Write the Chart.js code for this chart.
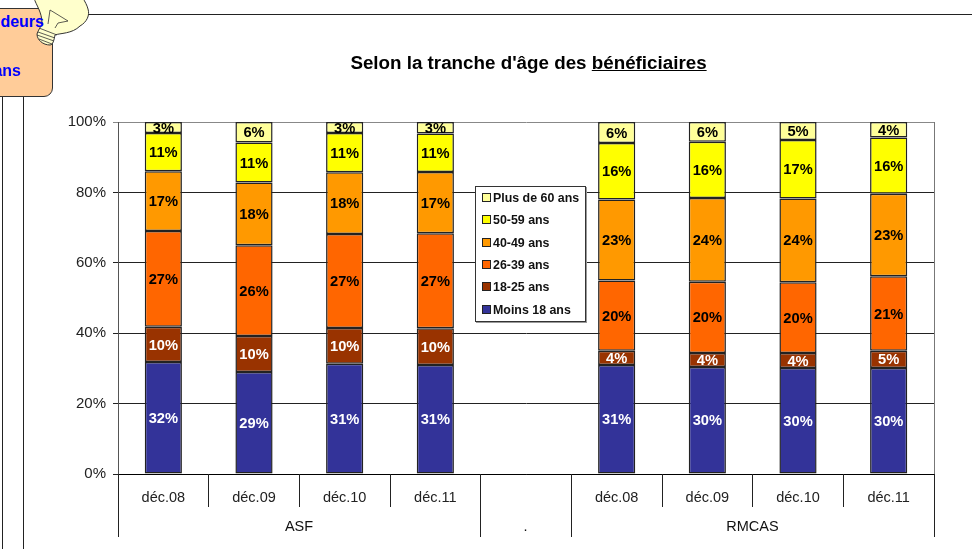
<!DOCTYPE html>
<html>
<head>
<meta charset="utf-8">
<style>
  html, body { margin: 0; padding: 0; background: #fff; overflow: hidden; }
  body { width: 972px; height: 549px; position: relative; font-family: "Liberation Sans", Arial, sans-serif; }
  #chart { position: absolute; left: 0; top: 0; }
  .rule { position: absolute; background: #222; }
  #noteBox { position: absolute; left: -20px; top: 8px; width: 71px; height: 87px; background: #ffcc99; border: 1px solid #333; border-radius: 0 0 9px 0; }
  .noteText { position: absolute; color: #0000ff; font-weight: bold; font-size: 16px; white-space: nowrap; }
  #bulb { position: absolute; left: 30px; top: 0; }
  #title { position: absolute; left: 0; top: 52px; width: 1057px; text-align: center; font-weight: bold; font-size: 18.8px; color: #000; }
  #legend { position: absolute; left: 475px; top: 186px; width: 109px; height: 134px; background: #fff; border: 1px solid #333; box-shadow: 1px 1px 0 #999; }
  #legend div { position: absolute; left: 6px; font-weight: bold; font-size: 12.4px; line-height: 14px; white-space: nowrap; color: #111; }
  #legend i { display: inline-block; width: 7px; height: 7px; border: 1px solid #222; margin-right: 2px; vertical-align: 0; }
</style>
</head>
<body>
<canvas id="chart" width="972" height="549"></canvas>

<div class="rule" style="left:88px;top:14px;width:884px;height:1px"></div>
<div class="rule" style="left:2px;top:96px;width:1px;height:453px"></div>
<div class="rule" style="left:23px;top:96px;width:1px;height:453px"></div>
<div id="noteBox"></div>
<svg id="bulb" width="62" height="48" viewBox="30 0 62 48">
  <path d="M34 -2 C36 5 42 12 42 23 C42 26 39 28 37 34 C37 40 43 45 50 45 C53 45 54 40 55 35 C60 33 72 34 80 26 C87 22 90 15 88 9 C87 5 85 2 83 -2 Z" fill="#ffffcc" stroke="#333" stroke-width="1"/>
  <path d="M39 28 L57 35 M38 32 L55 38 M37 35 L54 41 M39 39 L52 44" fill="none" stroke="#333" stroke-width="0.8"/>
  <path d="M48 24 L50 10 L55 13 L68 21 L58 23 L55 28" fill="none" stroke="#333" stroke-width="0.8"/>
</svg>
<div class="noteText" style="right:928px;top:13px">deurs</div>
<div class="noteText" style="right:951px;top:62px">ans</div>

<div id="title">Selon la tranche d'âge des <u>bénéficiaires</u></div>
<div id="legend"></div>

<script src="https://cdn.jsdelivr.net/npm/chart.js@4/dist/chart.umd.min.js"></script>
<script>
// months, the blank slot in the middle separates the two groups
const categories = ['déc.08', 'déc.09', 'déc.10', 'déc.11', '', 'déc.08', 'déc.09', 'déc.10', 'déc.11'];
const groupNames = ['ASF', '.', 'RMCAS'];
const groupSizes = [4, 1, 4];
const yTicks = [0, 20, 40, 60, 80, 100];

// values in percent
const moins18 = [31.8, 29.0, 31.3, 31.0, null, 31.0, 30.4, 30.1, 30.1];
const de18a25 = [10.0, 10.2, 10.2, 10.4, null, 4.0, 4.0, 4.3, 4.9];
const de26a39 = [27.2, 25.8, 26.7, 27.0, null, 20.0, 20.2, 20.1, 21.2];
const de40a49 = [17.0, 17.8, 17.5, 17.4, null, 23.0, 23.8, 23.8, 23.4];
const de50a59 = [10.9, 11.4, 11.2, 10.9, null, 16.0, 16.0, 16.6, 16.0];
const plus60 = [3.1, 5.8, 3.1, 3.3, null, 6.0, 5.6, 5.1, 4.4];

const seriesNames = ['Moins 18 ans', '18-25 ans', '26-39 ans', '40-49 ans', '50-59 ans', 'Plus de 60 ans'];
const seriesValues = [moins18, de18a25, de26a39, de40a49, de50a59, plus60];
const seriesColors = ['#333399', '#993300', '#ff6600', '#ff9900', '#ffff00', '#ffff99'];
const labelColors = ['#fff', '#fff', '#000', '#000', '#000', '#000'];

const fontFamily = '"Liberation Sans", Arial, sans-serif';

// percent labels in the middle of each bar segment
const barLabels = {
  id: 'barLabels',
  afterDatasetsDraw(chart) {
    const ctx = chart.ctx;
    ctx.save();
    ctx.font = 'bold 14.7px ' + fontFamily;
    ctx.textAlign = 'center';
    ctx.textBaseline = 'middle';
    chart.data.datasets.forEach((ds, i) => {
      chart.getDatasetMeta(i).data.forEach((bar, j) => {
        if (ds.data[j] === null) return;
        const p = bar.getProps(['x', 'y', 'base'], true);
        ctx.fillStyle = labelColors[i];
        ctx.fillText(Math.round(ds.data[j]) + '%', p.x, (p.y + p.base) / 2 + 1);
      });
    });
    ctx.restore();
  }
};

// separators and second level of the category axis, plus right side of the frame
const groupAxis = {
  id: 'groupAxis',
  afterDraw(chart) {
    const ctx = chart.ctx;
    const x = chart.scales.x;
    const area = chart.chartArea;
    const edge = i => Math.floor(x.getPixelForValue(i - 0.5)) + 0.5;
    const vline = (px, from, to) => {
      ctx.beginPath();
      ctx.moveTo(px, from);
      ctx.lineTo(px, to);
      ctx.stroke();
    };
    ctx.save();
    ctx.lineWidth = 1;
    ctx.strokeStyle = '#777';
    vline(edge(categories.length), area.top, area.bottom);
    ctx.strokeStyle = '#222';
    categories.forEach((c, i) => vline(edge(i), area.bottom, 507));
    ctx.fillStyle = '#111';
    ctx.font = '14.5px ' + fontFamily;
    ctx.textAlign = 'center';
    ctx.textBaseline = 'middle';
    let start = 0;
    groupNames.forEach((name, g) => {
      const end = start + groupSizes[g];
      vline(edge(start), area.bottom, 537);
      vline(edge(end), area.bottom, 537);
      ctx.fillText(name, (edge(start) + edge(end)) / 2 - 0.5, 527);
      start = end;
    });
    ctx.restore();
  }
};

const chart = new Chart(document.getElementById('chart'), {
  type: 'bar',
  data: {
    labels: categories,
    datasets: seriesNames.map((name, i) => ({
      label: name,
      data: seriesValues[i],
      backgroundColor: seriesColors[i],
      borderColor: '#222',
      borderWidth: 1.5,
      borderSkipped: false,
      barPercentage: 0.41,
      categoryPercentage: 1
    }))
  },
  options: {
    responsive: false,
    animation: false,
    layout: { padding: { left: 0, right: 38, top: 122, bottom: 0 } },
    plugins: { legend: { display: false }, title: { display: false }, tooltip: { enabled: false } },
    scales: {
      x: {
        stacked: true,
        afterFit(scale) { scale.height = 75; },
        border: { color: '#000' },
        grid: { drawOnChartArea: false, drawTicks: false },
        ticks: {
          color: '#222',
          font: { size: 14.5, family: fontFamily },
          padding: 15,
          maxRotation: 0,
          autoSkip: false
        }
      },
      y: {
        stacked: true,
        min: 0,
        max: 100,
        afterFit(scale) { scale.width = 118; },
        afterBuildTicks(scale) { scale.ticks = yTicks.map(v => ({ value: v })); },
        border: { color: '#555' },
        grid: {
          color: ctx => ctx.tick && ctx.tick.value === 100 ? '#888' : '#222',
          tickLength: 5
        },
        ticks: {
          color: '#222',
          font: { size: 15, family: fontFamily },
          padding: 7,
          callback: v => v + '%'
        }
      }
    }
  },
  plugins: [barLabels, groupAxis]
});

// legend box sits over the empty slot, listed top stack first
const legendBox = document.getElementById('legend');
chart.data.datasets.slice().reverse().forEach((ds, i) => {
  const row = document.createElement('div');
  row.style.top = (4 + i * 22.3) + 'px';
  row.innerHTML = `<i style="background:${ds.backgroundColor}"></i>${ds.label}`;
  legendBox.appendChild(row);
});
</script>
</body>
</html>
